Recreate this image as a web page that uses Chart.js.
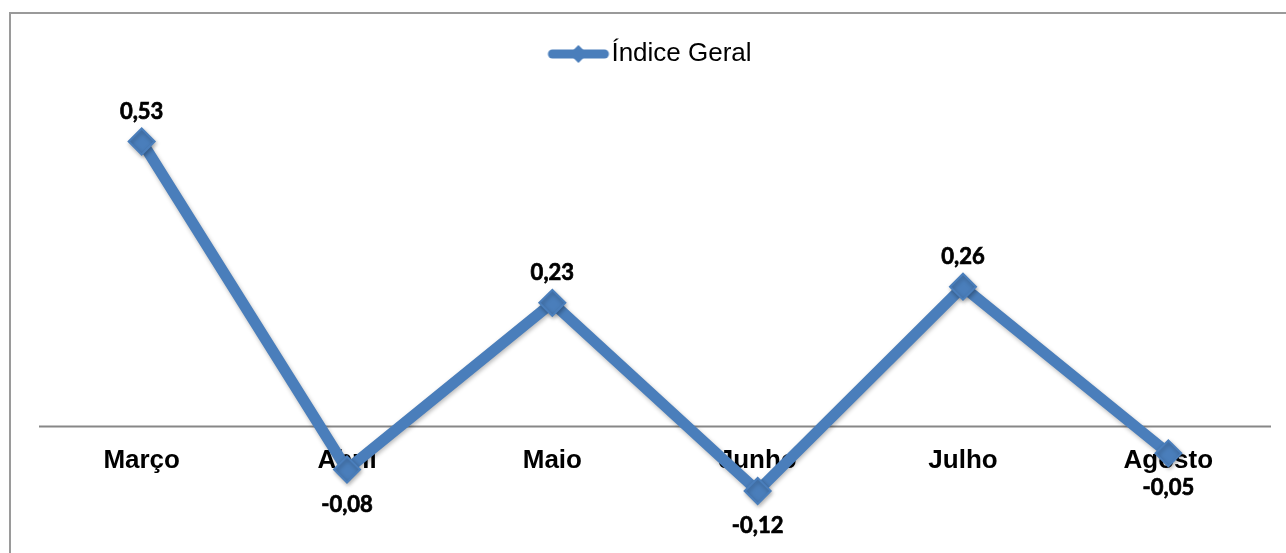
<!DOCTYPE html>
<html>
<head>
<meta charset="utf-8">
<script src="https://cdn.jsdelivr.net/npm/chart.js@4.4.1/dist/chart.umd.min.js"></script>
<style>
  html, body { margin: 0; padding: 0; background: #fff; overflow: hidden; }
  #frame { position: absolute; left: 9px; top: 12px; width: 1400px; height: 700px; border: 2px solid #9a9a9a; }
  #wrap { position: absolute; left: 0; top: 0; width: 1316px; height: 553px; }
</style>
</head>
<body>
<div id="frame"></div>
<div id="wrap"><canvas id="indiceChart" width="1316" height="553"></canvas></div>
<script>
'use strict';
var months = ['Março', 'Abril', 'Maio', 'Junho', 'Julho', 'Agosto'];
var indiceGeral = [0.53, -0.08, 0.23, -0.12, 0.26, -0.05];
var seriesName = 'Índice Geral';

(function chart () {
    var blue = '#4a7ebb';

    // small picture for the legend: thick line with a diamond in the middle
    var legendMark = document.createElement('canvas');
    legendMark.width = 64;
    legendMark.height = 20;
    var lc = legendMark.getContext('2d');
    lc.strokeStyle = blue;
    lc.lineWidth = 9;
    lc.lineCap = 'round';
    lc.beginPath();
    lc.moveTo(6, 10);
    lc.lineTo(58, 10);
    lc.stroke();
    lc.fillStyle = blue;
    lc.beginPath();
    lc.moveTo(32, 1);
    lc.lineTo(41, 10);
    lc.lineTo(32, 19);
    lc.lineTo(23, 10);
    lc.closePath();
    lc.fill();

    function fmt (v) {
        return v.toFixed(2).replace('.', ',');
    }

    var axisAndLabels = {
        id: 'axisAndLabels',
        beforeDatasetsDraw: function (c) {
            var ctx = c.ctx;
            var area = c.chartArea;
            var y0 = c.scales.y.getPixelForValue(0);
            ctx.save();
            ctx.strokeStyle = '#878787';
            ctx.lineWidth = 2;
            ctx.beginPath();
            ctx.moveTo(area.left, y0);
            ctx.lineTo(area.right, y0);
            ctx.stroke();
            ctx.fillStyle = '#000';
            ctx.font = 'bold 26px "Liberation Sans", Arial, sans-serif';
            ctx.textAlign = 'center';
            ctx.textBaseline = 'middle';
            months.forEach(function (m, i) {
                ctx.fillText(m, c.scales.x.getPixelForValue(i), y0 + 34);
            });
            ctx.restore();
        },
        beforeDatasetDraw: function (c) {
            var ctx = c.ctx;
            ctx.save();
            ctx.shadowColor = 'rgba(0,0,0,0.28)';
            ctx.shadowBlur = 4;
            ctx.shadowOffsetX = 1;
            ctx.shadowOffsetY = 2;
        },
        afterDatasetDraw: function (c) {
            c.ctx.restore();
        },
        afterDatasetsDraw: function (c) {
            var ctx = c.ctx;
            var meta = c.getDatasetMeta(0);
            ctx.save();
            ctx.fillStyle = '#000';
            ctx.strokeStyle = '#000';
            ctx.lineWidth = 0.7;
            ctx.font = 'bold 22px Lato, "Open Sans", sans-serif';
            ctx.textAlign = 'center';
            ctx.textBaseline = 'middle';
            meta.data.forEach(function (pt, i) {
                var v = indiceGeral[i];
                var dy = v >= 0 ? -30 : 35;
                ctx.fillText(fmt(v), pt.x, pt.y + dy);
                ctx.strokeText(fmt(v), pt.x, pt.y + dy);
            });
            ctx.restore();
        }
    };

    var ctx = document.getElementById('indiceChart').getContext('2d');

    new Chart(ctx, {
        type: 'line',
        data: {
            labels: months,
            datasets: [{
                label: seriesName,
                data: indiceGeral,
                borderColor: blue,
                backgroundColor: blue,
                borderWidth: 11,
                pointStyle: 'rectRot',
                pointRadius: 13,
                pointBorderWidth: 2,
                pointBackgroundColor: blue,
                pointBorderColor: blue,
                tension: 0,
                clip: false
            }]
        },
        options: {
            responsive: false,
            animation: false,
            events: [],
            layout: {
                padding: { left: 39, right: 45, top: 31, bottom: 19 }
            },
            scales: {
                x: { type: 'category', offset: true, display: false },
                y: { min: -0.2, max: 0.65, display: false }
            },
            plugins: {
                legend: {
                    position: 'top',
                    labels: {
                        usePointStyle: true,
                        pointStyleWidth: 40,
                        padding: 10,
                        color: '#000',
                        font: { family: '"Liberation Sans", Arial, sans-serif', size: 26 },
                        generateLabels: function (c) {
                            var items = Chart.defaults.plugins.legend.labels.generateLabels(c);
                            items.forEach(function (it) { it.pointStyle = legendMark; });
                            return items;
                        }
                    }
                },
                tooltip: { enabled: false }
            }
        },
        plugins: [axisAndLabels]
    });
}());
</script>
</body>
</html>
